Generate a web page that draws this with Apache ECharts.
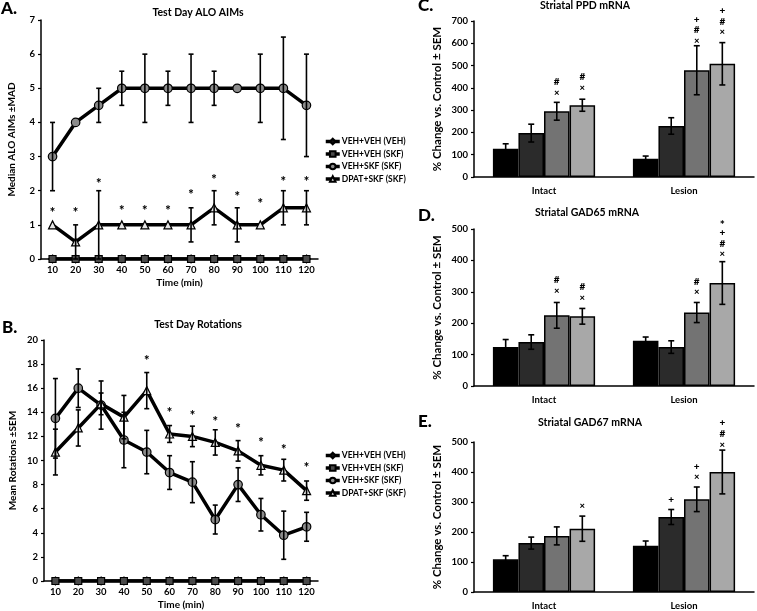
<!DOCTYPE html>
<html><head><meta charset="utf-8">
<script src="https://cdn.jsdelivr.net/npm/echarts@6/dist/echarts.min.js"></script>
<style>html,body{margin:0;padding:0;background:#fff}#c{width:757px;height:611px}</style>
</head><body><div id="c"></div>
<script>
// ---------- DATA ----------
const times = ['10','20','30','40','50','60','70','80','90','100','110','120'];
const groupNames = ['VEH+VEH (VEH)','VEH+VEH (SKF)','VEH+SKF (SKF)','DPAT+SKF (SKF)'];
const barCats = ['Intact','Lesion'];

// Panel A: Test Day ALO AIMs (median ± MAD)
const aimsVehVeh    = [0,0,0,0,0,0,0,0,0,0,0,0];
const aimsVehVehSkf = [0,0,0,0,0,0,0,0,0,0,0,0];
const aimsVehSkf    = [3,4,4.5,5,5,5,5,5,5,5,5,4.5];
const aimsVehSkfErr = [1,0,0.5,0.5,1,0.5,1,0.5,0,1,1.5,1.5];
const aimsDpatSkf    = [1,0.5,1,1,1,1,1,1.5,1,1,1.5,1.5];
const aimsDpatSkfErr = [0,0.5,1,0,0,0,0.5,0.5,0.5,0,0.5,0.5];
const aimsStars = [1.46,1.46,2.3,1.53,1.53,1.53,2.0,2.44,1.92,1.72,2.37,2.37];

// Panel B: Test Day Rotations (mean ± SEM)
const rotVehVeh    = [0,0,0,0,0,0,0,0,0,0,0,0];
const rotVehVehSkf = [0,0,0,0,0,0,0,0,0,0,0,0];
const rotVehSkf    = [13.5,16.0,14.6,11.7,10.7,9.0,8.2,5.1,8.0,5.5,3.8,4.5];
const rotVehSkfErr = [3.3,1.6,2.0,2.3,1.8,1.4,1.7,1.2,1.4,1.35,2.0,1.2];
const rotDpatSkf    = [10.7,12.7,14.7,13.6,15.8,12.2,12.0,11.5,10.8,9.6,9.2,7.5];
const rotDpatSkfErr = [1.9,1.5,0.9,1.8,1.5,0.7,0.85,1.05,0.85,0.8,0.9,0.8];
const rotStars = [null,null,null,null,18.6,14.3,14.0,13.55,12.9,11.8,11.2,9.7];

// Panel C: Striatal PPD mRNA  (per group: [Intact, Lesion])
const ppdVals = [[127,82],[197,229],[295,479],[322,508]];
const ppdErrs = [[22,12],[40,37],[40,110],[27,95]];
const ppdAnnText = [['','','#\n×','#\n×'],['','','+\n#\n×','+\n#\n×']];
const ppdAnnY    = [[null,null,378,400],[null,null,610,650]];

// Panel D: Striatal GAD65 mRNA
const gad65Vals = [[124,144],[140,124],[225,234],[222,328]];
const gad65Errs = [[24,12],[23,20],[41,32],[25,68]];
const gad65AnnText = [['','','#\n×','#\n×'],['','','#\n×','*\n+\n#\n×']];
const gad65AnnY    = [[null,null,303,281],[null,null,298,420]];

// Panel E: Striatal GAD67 mRNA
const gad67Vals = [[109,154],[163,250],[187,309],[211,400]];
const gad67Errs = [[12,16],[20,25],[30,41],[42,73]];
const gad67AnnText = [['','','','×'],['','+','+\n×','+\n#\n×']];
const gad67AnnY    = [[null,null,null,287],[null,309,383,491]];

// ---------- STYLE ----------
const FONT = 'Lato';
const barColors = ['#000000','#2b2b2b','#737373','#a8a8a8'];
const axisLineStyle = {color:'#000', width:1.5};
const tickFont = {fontFamily:FONT, fontWeight:'bold', fontSize:9.5, color:'#000'};

function errLines(x, yTop, yBot, cap){
  return [
    {type:'line', shape:{x1:x,y1:yTop,x2:x,y2:yBot}, style:{stroke:'#000', lineWidth:1.6}},
    {type:'line', shape:{x1:x-cap,y1:yTop,x2:x+cap,y2:yTop}, style:{stroke:'#000', lineWidth:1.6}},
    {type:'line', shape:{x1:x-cap,y1:yBot,x2:x+cap,y2:yBot}, style:{stroke:'#000', lineWidth:1.6}}
  ];
}
function symText(x, y, t, size){
  const dy = (t === '*') ? size*0.28 : 0;
  return {type:'text', style:{x:x, y:y+dy, text:t, fill:'#000', font:'900 '+size+'px '+FONT, textAlign:'center', textVerticalAlign:'middle'}};
}

const grids = [], xAxes = [], yAxes = [], series = [];

function linePanel(gi, grid, yMax, yInt, yName, yNameGap, vals, errs, stars){
  grids.push(grid);
  xAxes.push({type:'category', gridIndex:gi, data:times, boundaryGap:true,
    axisLine:{lineStyle:axisLineStyle}, axisTick:{length:3, lineStyle:{color:'#000', width:1.2}},
    axisLabel:Object.assign({margin:6}, tickFont),
    name:'Time (min)', nameLocation:'middle', nameGap:19, nameTextStyle:{fontFamily:FONT, fontWeight:'bold', fontSize:10, color:'#000'}});
  yAxes.push({type:'value', gridIndex:gi, min:0, max:yMax, interval:yInt,
    axisLine:{show:true, lineStyle:axisLineStyle}, axisTick:{show:true, length:3, lineStyle:{color:'#000', width:1.2}},
    splitLine:{show:false}, axisLabel:Object.assign({margin:6}, tickFont),
    name:yName, nameLocation:'middle', nameRotate:90, nameGap:yNameGap, nameTextStyle:{fontFamily:FONT, fontWeight:'bold', fontSize:10, color:'#000'}});
  const syms = ['diamond','rect','circle','triangle'];
  const fills = ['#111','#4a4a4a','#8c8c8c','#e6e6e6'];
  const sizes = [8,7,8.5,8];
  vals.forEach((d,k)=>{
    series.push({type:'line', name:groupNames[k], data:d, xAxisIndex:gi, yAxisIndex:gi,
      symbol:syms[k], symbolSize:sizes[k], showSymbol:true, showAllSymbol:true,
      lineStyle:{color:'#000', width:3.5}, itemStyle:{color:fills[k], borderColor:'#000', borderWidth:1.2},
      z:3+k, animation:false, silent:true});
  });
  errs.forEach(({v,e})=>{
    const data = v.map((val,i)=>[i, val, e[i]]);
    series.push({type:'custom', xAxisIndex:gi, yAxisIndex:gi, data, encode:{x:0,y:1}, z:8, animation:false, silent:true,
      renderItem:(p, api)=>{
        const i = api.value(0), val = api.value(1), er = api.value(2);
        if(!er) return {type:'group', children:[]};
        const t = api.coord([i, val+er]), b = api.coord([i, val-er]);
        return {type:'group', children:errLines(t[0], t[1], b[1], 2.5)};
      }});
  });
  const sdata = []; stars.forEach((s,i)=>{ if(s!=null) sdata.push([i,s]); });
  series.push({type:'custom', xAxisIndex:gi, yAxisIndex:gi, data:sdata, encode:{x:0,y:1}, z:9, animation:false, silent:true,
    renderItem:(p, api)=>{
      const c = api.coord([api.value(0), api.value(1)]);
      return {type:'group', children:[symText(c[0], c[1], '*', 13)]};
    }});
}

function barPanel(gi, grid, yMax, prefix, vals, errs, annText, annY){
  grids.push(grid);
  xAxes.push({type:'category', gridIndex:gi, data:barCats, boundaryGap:true,
    axisLine:{lineStyle:axisLineStyle}, axisTick:{length:4, lineStyle:{color:'#000', width:1.2}},
    axisLabel:Object.assign({margin:9}, tickFont)});
  yAxes.push({type:'value', gridIndex:gi, min:0, max:yMax, interval:100,
    axisLine:{show:true, lineStyle:axisLineStyle}, axisTick:{show:true, length:3, lineStyle:{color:'#000', width:1.2}},
    splitLine:{show:false}, axisLabel:Object.assign({margin:6}, tickFont),
    name:'% Change vs. Control ± SEM', nameLocation:'middle', nameRotate:90, nameGap:31,
    nameTextStyle:{fontFamily:FONT, fontWeight:'bold', fontSize:11.5, color:'#000'}});
  vals.forEach((d,b)=>{
    series.push({type:'bar', name:prefix+' '+groupNames[b], data:d, xAxisIndex:gi, yAxisIndex:gi,
      barGap:'0%', barCategoryGap:'27%', animation:false, silent:true,
      itemStyle:{color:barColors[b], borderColor:'#000', borderWidth:1.5}});
  });
  const ed = [];
  errs.forEach((e,b)=> e.forEach((ev,c)=> ed.push([c, vals[b][c], ev, b])));
  series.push({type:'custom', xAxisIndex:gi, yAxisIndex:gi, data:ed, encode:{x:0,y:1}, z:5, animation:false, silent:true,
    renderItem:(p, api)=>{
      const c = api.value(0), v = api.value(1), e = api.value(2), b = api.value(3);
      const bw = api.size([1,0])[0]*0.73/4;
      const t = api.coord([c, v+e]), bt = api.coord([c, v-e]);
      const x = t[0] + (b-1.5)*bw;
      return {type:'group', children:errLines(x, t[1], bt[1], 3)};
    }});
  const ad = [], at = [];
  annY.forEach((row,c)=> row.forEach((y,b)=>{ if(y!=null){ ad.push([c, y, b]); at.push(annText[c][b]); } }));
  series.push({type:'custom', xAxisIndex:gi, yAxisIndex:gi, data:ad, encode:{x:0,y:1}, z:6, animation:false, silent:true,
    renderItem:(p, api)=>{
      const c = api.value(0), y = api.value(1), b = api.value(2);
      const bw = api.size([1,0])[0]*0.73/4;
      const pt = api.coord([c, y]);
      const x = pt[0] + (b-1.5)*bw;
      const lines = at[p.dataIndex].split('\n');
      const n = lines.length;
      return {type:'group', children:lines.map((t,k)=> symText(x, pt[1] - (n-1-k)*10.8, t, t==='*'?12:(t==='×'?9.5:10)))};
    }});
}

linePanel(0, {left:41, top:20, width:277, height:239}, 7, 1, 'Median ALO AIMs ±MAD', 24,
  [aimsVehVeh, aimsVehVehSkf, aimsVehSkf, aimsDpatSkf],
  [{v:aimsVehSkf, e:aimsVehSkfErr},{v:aimsDpatSkf, e:aimsDpatSkfErr}], aimsStars);
linePanel(1, {left:44, top:340, width:274, height:242}, 20, 2, 'Mean Rotations ±SEM', 26,
  [rotVehVeh, rotVehVehSkf, rotVehSkf, rotDpatSkf],
  [{v:rotVehSkf, e:rotVehSkfErr},{v:rotDpatSkf, e:rotDpatSkfErr}], rotStars);
barPanel(2, {left:474, top:21, width:280, height:156}, 700, 'PPD', ppdVals, ppdErrs, ppdAnnText, ppdAnnY);
barPanel(3, {left:474, top:229, width:280, height:157}, 500, 'GAD65', gad65Vals, gad65Errs, gad65AnnText, gad65AnnY);
barPanel(4, {left:474, top:442, width:280, height:152}, 500, 'GAD67', gad67Vals, gad67Errs, gad67AnnText, gad67AnnY);

function txt(x, y, t, size, align, weight){
  return {type:'text', x:x, y:y, silent:true, style:{text:t, fill:'#000', font:(weight||'bold')+' '+size+'px '+FONT, textAlign:align||'center', textVerticalAlign:'middle'}};
}
const legendBase = {orient:'vertical', left:324, itemWidth:14, itemHeight:7, itemGap:3.5, padding:0, selectedMode:false,
  data:groupNames, lineStyle:{width:3.5, color:'#000'},
  textStyle:{fontFamily:FONT, fontWeight:'bold', fontSize:8.5, color:'#000', padding:[0,0,0,-3]}};

const option = {
  backgroundColor:'#fff',
  animation:false,
  grid:grids, xAxis:xAxes, yAxis:yAxes, series:series,
  legend:[Object.assign({top:137}, legendBase), Object.assign({top:451}, legendBase)],
  graphic:[
    txt(1, 9, 'A.', 17, 'left', '900'), txt(2, 328, 'B.', 17, 'left', '900'),
    txt(418, 6, 'C.', 17, 'left', '900'), txt(418, 216, 'D.', 17, 'left', '900'), txt(418, 422, 'E.', 17, 'left', '900'),
    txt(198, 13, 'Test Day ALO AIMs', 10.5), txt(198, 325, 'Test Day Rotations', 10.5),
    txt(585, 6, 'Striatal PPD mRNA', 10.5), txt(587, 213, 'Striatal GAD65 mRNA', 10.5), txt(590, 423, 'Striatal GAD67 mRNA', 10.5)
  ]
};
const chart = echarts.init(document.getElementById('c'));
chart.setOption(option);
</script></body></html>
